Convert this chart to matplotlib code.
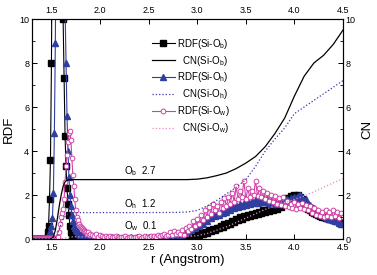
import numpy as np
import matplotlib
matplotlib.use('Agg')
import matplotlib.pyplot as plt
from matplotlib.ticker import MultipleLocator

plt.rcParams['font.family'] = ['Liberation Sans', 'DejaVu Sans']
plt.rcParams['mathtext.fontset'] = 'custom'
plt.rcParams['mathtext.rm'] = 'Liberation Sans'
plt.rcParams['mathtext.it'] = 'Liberation Sans'

# r grid for RDF: fine step around first peak, then 0.02
r_peak = np.round(np.arange(1.30, 1.905, 0.01), 2)
r_rest = np.round(np.arange(1.92, 4.505, 0.02), 2)
r_rdf = np.concatenate([r_peak, r_rest])

# RDF(Si-Ob), black squares
rdf_ob_peak = [0]*15 + [0.05, 0.3, 0.6, 1.8, 3.6, 8.0, 16, 24, 30, 33, 32, 30, 27, 24, 21, 17,
                        13.5, 10.0, 7.3, 4.7, 3.3, 2.3, 1.6, 1.1, 0.6, 0.3, 0.15, 0.05] + [0]*18
rdf_ob_low = [0]*45
rdf_ob_tail = [0.0, 0.02, 0.03, 0.05, 0.05, 0.1, 0.08, 0.15, 0.12, 0.2,
               0.18, 0.28, 0.22, 0.32, 0.28, 0.4, 0.35, 0.45, 0.4, 0.52,
               0.48, 0.6, 0.55, 0.68, 0.62, 0.75, 0.7, 0.82, 0.78, 0.9,
               0.85, 0.98, 0.92, 1.05, 1.0, 1.1, 1.05, 1.15, 1.1, 1.2,
               1.15, 1.25, 1.2, 1.3, 1.22, 1.32, 1.28, 1.38, 1.3, 1.42,
               1.38, 1.5, 1.45, 1.6, 1.7, 1.85, 1.8, 1.95, 1.9, 2.0,
               1.92, 1.98, 1.9, 1.8, 1.6, 1.45, 1.35, 1.3, 1.25, 1.2,
               1.15, 1.1, 1.05, 1.0, 1.0, 0.95, 0.95, 0.9, 0.9, 0.85,
               0.85, 0.8, 0.8, 0.75, 0.72]

# RDF(Si-Oh), blue triangles
rdf_oh_peak = [0.03]*16 + [0.05, 0.1, 0.2, 0.35, 0.6, 0.95, 2.1, 4.8, 8.9, 15, 21, 25, 27, 27, 25,
                           22, 18, 14, 10.5,
                           8.0, 5.6, 4.0, 2.8, 2.0, 1.5, 1.1, 0.8, 0.6, 0.5, 0.4, 0.35, 0.3,
                           0.25, 0.2, 0.2, 0.15, 0.15, 0.12, 0.1, 0.1, 0.1, 0.08, 0.1, 0.08, 0.1]
rdf_oh_low = [0.08, 0.06, 0.1, 0.05, 0.08, 0.06, 0.05, 0.1, 0.06, 0.05,
              0.08, 0.05, 0.06, 0.1, 0.05, 0.06, 0.05, 0.08, 0.05, 0.06,
              0.1, 0.06, 0.05, 0.08, 0.06, 0.05, 0.06, 0.1, 0.05, 0.08,
              0.06, 0.05, 0.1, 0.06, 0.08, 0.05, 0.06, 0.1, 0.08, 0.06,
              0.1, 0.12, 0.08, 0.15, 0.2]
rdf_oh_tail = [0.2, 0.25, 0.3, 0.35, 0.3, 0.45, 0.4, 0.55, 0.5, 0.65,
               0.6, 0.75, 0.7, 0.9, 0.8, 1.0, 0.95, 1.1, 1.05, 1.2,
               1.1, 1.25, 1.2, 1.35, 1.25, 1.4, 1.3, 1.5, 1.4, 1.55,
               1.45, 1.6, 1.5, 1.65, 1.55, 1.7, 1.6, 1.75, 1.62, 1.8,
               1.65, 1.8, 1.7, 1.85, 1.7, 1.8, 1.65, 1.75, 1.6, 1.7,
               1.6, 1.7, 1.65, 1.75, 1.7, 1.8, 1.75, 1.85, 1.8, 1.9,
               1.85, 1.95, 2.0, 1.9, 1.75, 1.8, 1.6, 1.55, 1.45, 1.4,
               1.3, 1.25, 1.15, 1.1, 1.05, 1.0, 0.95, 0.9, 0.9, 0.85,
               0.8, 0.8, 0.75, 0.7, 0.68]

# RDF(Si-Ow), pink open circles
rdf_ow_peak = [0.03]*27 + [0.1, 0.3, 0.7, 1.0, 1.2, 1.35, 1.8, 2.6, 3.3, 3.8, 4.4, 4.8, 4.9, 4.5,
                           3.7, 2.9, 2.4, 1.8, 1.3, 1.0, 0.85, 0.7, 0.6, 0.55, 0.5, 0.45, 0.4,
                           0.35, 0.3, 0.3, 0.25, 0.3, 0.2, 0.25]
rdf_ow_low = [0.2, 0.15, 0.25, 0.1, 0.2, 0.15, 0.1, 0.12, 0.08, 0.15,
              0.1, 0.08, 0.12, 0.1, 0.06, 0.1, 0.08, 0.12, 0.06, 0.1,
              0.08, 0.05, 0.1, 0.08, 0.12, 0.06, 0.1, 0.15, 0.08, 0.1,
              0.12, 0.08, 0.15, 0.1, 0.2, 0.12, 0.18, 0.25, 0.15, 0.2,
              0.3, 0.2, 0.35, 0.25, 0.3]
rdf_ow_tail = [0.25, 0.4, 0.2, 0.5, 0.35, 0.6, 0.45, 0.8, 0.6, 0.9,
               0.7, 1.1, 0.85, 1.3, 1.0, 1.45, 1.15, 1.6, 1.3, 1.5,
               1.2, 1.7, 1.4, 1.85, 1.5, 1.9, 1.6, 2.1, 1.7, 2.4,
               1.8, 2.2, 1.9, 2.65, 1.8, 2.3, 1.9, 2.2, 2.0, 2.65,
               1.95, 2.3, 1.9, 2.2, 1.8, 2.1, 1.75, 2.0, 1.7, 1.95,
               1.6, 1.85, 1.55, 1.9, 1.5, 1.75, 1.45, 1.6, 1.4, 1.7,
               1.35, 1.6, 1.4, 1.65, 1.35, 1.55, 1.3, 1.5, 1.2, 1.4,
               1.1, 1.3, 1.05, 1.25, 1.0, 1.3, 1.05, 1.25, 1.0, 1.3,
               1.05, 1.25, 0.95, 1.2, 1.0]

rdf_ob = rdf_ob_peak + rdf_ob_low + rdf_ob_tail
rdf_oh = rdf_oh_peak + rdf_oh_low + rdf_oh_tail
rdf_ow = rdf_ow_peak + rdf_ow_low + rdf_ow_tail

# coordination numbers
r_cn = [1.30, 1.48, 1.50, 1.52, 1.54, 1.56, 1.58, 1.60, 1.62, 1.64, 1.66, 1.68, 1.70, 1.75,
        1.80, 2.00, 2.40, 2.80, 2.90, 3.00, 3.10, 3.20, 3.30, 3.40, 3.50, 3.60, 3.70, 3.80,
        3.90, 4.00, 4.10, 4.20, 4.30, 4.40, 4.50]
cn_ob = [0, 0, 0.02, 0.1, 0.4, 0.9, 1.5, 2.0, 2.4, 2.6, 2.67, 2.69, 2.7, 2.7, 2.7, 2.7, 2.7,
         2.7, 2.7, 2.72, 2.78, 2.88, 3.0, 3.2, 3.45, 3.75, 4.2, 4.8, 5.5, 6.5, 7.4, 8.0,
         8.35, 8.85, 9.5]
cn_oh = [0, 0, 0, 0, 0.05, 0.2, 0.45, 0.7, 0.9, 1.02, 1.1, 1.15, 1.18, 1.2, 1.2, 1.2, 1.2,
         1.21, 1.23, 1.3, 1.5, 1.75, 2.05, 2.35, 2.7, 3.3, 4.0, 4.55, 5.05, 5.7, 6.0, 6.3,
         6.6, 6.9, 7.2]
cn_ow = [0, 0, 0, 0, 0, 0, 0, 0.005, 0.02, 0.04, 0.06, 0.08, 0.09, 0.1, 0.1, 0.1, 0.1, 0.1,
         0.12, 0.15, 0.25, 0.4, 0.55, 0.75, 0.95, 1.15, 1.35, 1.5, 1.65, 1.8, 1.95, 2.15,
         2.35, 2.55, 2.75]

c_black = '#000000'
c_blue = '#2f3f9f'
c_pink = '#d23fa6'
c_blue_cn = '#3535b0'
c_pink_cn = '#e58acb'

fig = plt.figure(figsize=(3.77, 2.75), dpi=100)
ax = fig.add_axes([0.0849, 0.1309, 0.825, 0.8])
ax2 = ax.twinx()

h1, = ax.plot(r_rdf, rdf_ob, '-s', color=c_black, lw=0.8, ms=4.0, mec=c_black, mfc=c_black)
h3, = ax.plot(r_rdf, rdf_oh, '-^', color=c_blue, lw=0.8, ms=4.3, mec=c_blue, mfc=c_blue)
h5, = ax.plot(r_rdf, rdf_ow, '-o', color=c_pink, lw=0.8, ms=3.4, mec=c_pink, mfc='white', mew=0.7)

h2, = ax2.plot(r_cn, cn_ob, '-', color=c_black, lw=0.9)
h4, = ax2.plot(r_cn, cn_oh, ':', color=c_blue_cn, lw=0.9)
h6, = ax2.plot(r_cn, cn_ow, ':', color=c_pink_cn, lw=0.9)

for a in (ax, ax2):
    a.set_xlim(1.3, 4.5)
    a.set_ylim(0, 10)
    a.yaxis.set_major_locator(MultipleLocator(2))
    a.yaxis.set_minor_locator(MultipleLocator(1))
    a.tick_params(which='both', direction='in', labelsize=6.5, pad=2)
    a.tick_params(which='major', length=3.5, width=0.7)
    a.tick_params(which='minor', length=2, width=0.6)
    for s in a.spines.values():
        s.set_linewidth(0.8)

ax.xaxis.set_major_locator(MultipleLocator(0.5))
ax.tick_params(axis='x', top=True, labeltop=True, pad=3)
ax.tick_params(axis='y', right=False)
ax2.tick_params(axis='y', left=False)

ax.set_xlabel('r (Angstrom)', fontsize=9.5, labelpad=1)
ax.set_ylabel('RDF', fontsize=9.5, labelpad=3)
ax2.set_ylabel('CN', fontsize=9.5, labelpad=4)

ax.text(2.25, 3.1, 'O$_b$  2.7', fontsize=7, va='center')
ax.text(2.25, 1.6, 'O$_h$  1.2', fontsize=7, va='center')
ax.text(2.25, 0.6, 'O$_w$  0.1', fontsize=7, va='center')

labels = ['RDF(Si-O$_b$)', '  CN(Si-O$_b$)', 'RDF(Si-O$_h$)', '  CN(Si-O$_h$)',
          'RDF(Si-O$_w$)', '  CN(Si-O$_w$)']
leg = ax2.legend([h1, h2, h3, h4, h5, h6], labels, loc='upper left',
                 bbox_to_anchor=(0.385, 0.92), frameon=False, fontsize=7,
                 handlelength=2.4, handletextpad=0.2, labelspacing=0.3,
                 borderaxespad=0, borderpad=0)

fig.savefig('out.png', dpi=100)
